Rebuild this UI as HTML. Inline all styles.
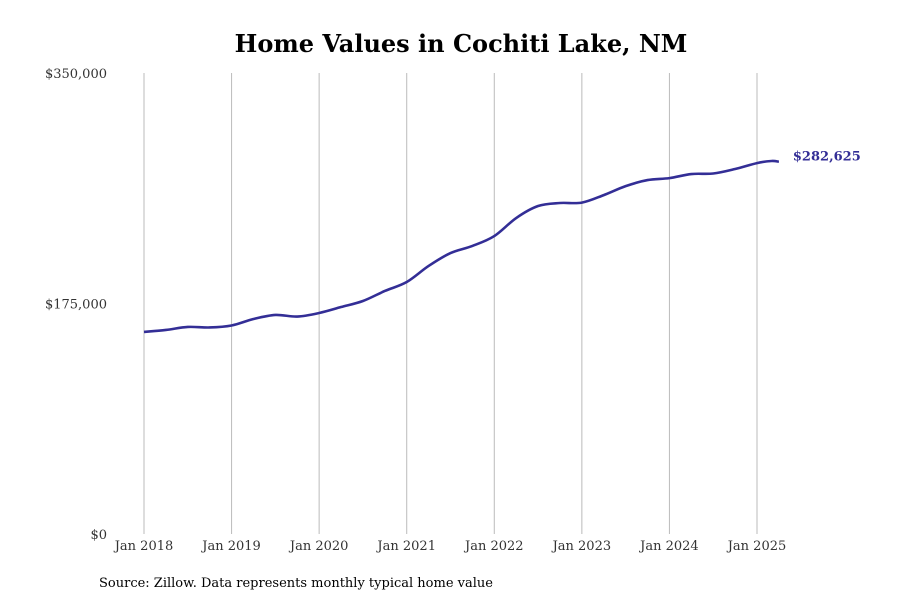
<!DOCTYPE html>
<html><head><meta charset="utf-8"><style>
body{margin:0;background:#fff;}
svg{display:block;font-family:"DejaVu Serif","Liberation Serif",serif;}
</style></head><body>
<svg id="chart" width="900" height="600">
<text x="461" y="52" text-anchor="middle" font-size="24" font-weight="bold" fill="#000">Home Values in Cochiti Lake, NM</text>
<g id="grid"></g><g id="yaxis"></g><g id="xaxis"></g>
<path id="line" fill="none" stroke="#332e96" stroke-width="2.6"/>
<text id="endlabel" font-size="13" font-weight="bold" fill="#332e96"></text>
<text x="99" y="587" font-size="13" fill="#000">Source: Zillow. Data represents monthly typical home value</text>
</svg>
<script>
const months=[0,3,6,9,12,15,18,21,24,27,30,33,36,39,42,45,48,51,54,57,60,63,66,69,72,75,78,81,84,86,87];
const values=[153400,154900,157200,156800,158300,163200,166300,165100,167800,172300,176900,184500,191300,203500,213300,218700,226200,239900,249000,251300,251600,257300,264100,268700,270200,273300,273700,277100,281600,283200,282625];
const xTickLabels=["Jan 2018","Jan 2019","Jan 2020","Jan 2021","Jan 2022","Jan 2023","Jan 2024","Jan 2025"];
const yTicks=[0,175000,350000];
const NS="http://www.w3.org/2000/svg";
const x=m=>144+m*(613/84);
const y=v=>534-v*(461/350000);
const grid=document.getElementById('grid'),xa=document.getElementById('xaxis'),ya=document.getElementById('yaxis');
xTickLabels.forEach((t,i)=>{
 const l=document.createElementNS(NS,'line');
 l.setAttribute('x1',x(i*12));l.setAttribute('x2',x(i*12));l.setAttribute('y1',73);l.setAttribute('y2',534);
 l.setAttribute('stroke','#bbb');l.setAttribute('stroke-width','1');
 
 
 grid.appendChild(l);
 const tx=document.createElementNS(NS,'text');
 tx.setAttribute('x',x(i*12));tx.setAttribute('y',550);tx.setAttribute('text-anchor','middle');
 tx.setAttribute('font-size','13');tx.setAttribute('fill','#333');tx.textContent=t;
 
 
 xa.appendChild(tx);
});
yTicks.forEach(v=>{
 const tx=document.createElementNS(NS,'text');
 tx.setAttribute('x',107);tx.setAttribute('y',y(v)+5);tx.setAttribute('text-anchor','end');
 tx.setAttribute('font-size','13');tx.setAttribute('fill','#333');tx.textContent='$'+v.toLocaleString('en-US');
 
 
 ya.appendChild(tx);
});
const pts=months.map((m,i)=>[x(m),y(values[i])]);
let d='M'+pts[0][0]+','+pts[0][1];
for(let i=0;i<pts.length-1;i++){
 const p0=pts[i-1]||pts[i],p1=pts[i],p2=pts[i+1],p3=pts[i+2]||p2;
 const c1=[p1[0]+(p2[0]-p0[0])/6,p1[1]+(p2[1]-p0[1])/6];
 const c2=[p2[0]-(p3[0]-p1[0])/6,p2[1]-(p3[1]-p1[1])/6];
 d+=` C${c1[0]},${c1[1]} ${c2[0]},${c2[1]} ${p2[0]},${p2[1]}`;
}
document.getElementById('line').setAttribute('d',d);
const last=pts[pts.length-1];
const el=document.getElementById('endlabel');
el.setAttribute('x',last[0]+14);el.setAttribute('y',last[1]-1);
el.textContent='$'+values[values.length-1].toLocaleString('en-US');
</script>
</body></html>
